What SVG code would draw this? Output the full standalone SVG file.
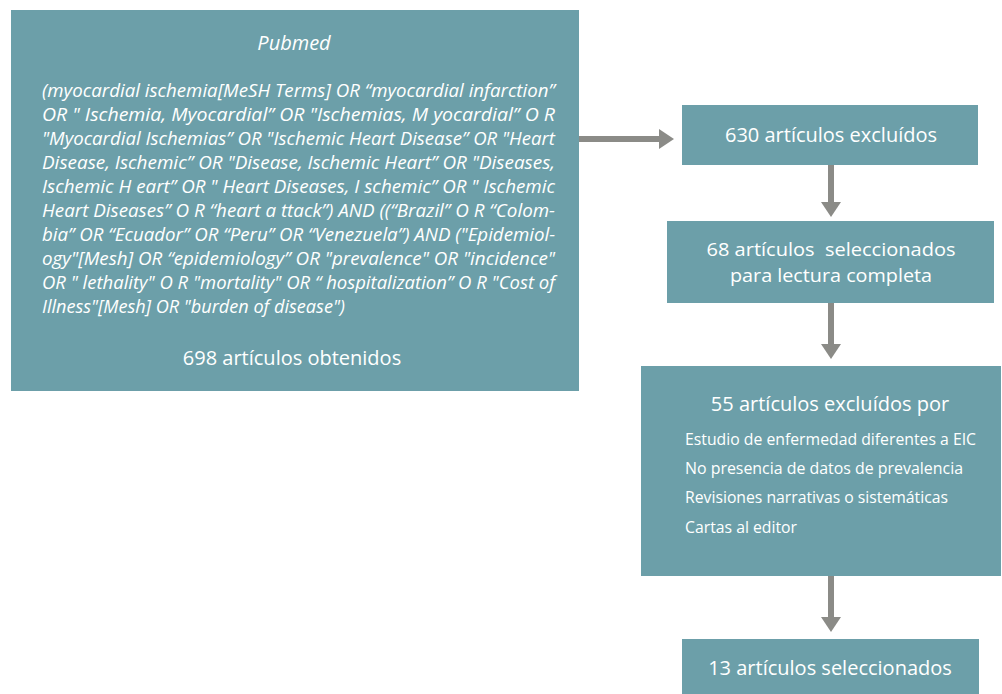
<svg xmlns="http://www.w3.org/2000/svg" width="1002" height="694" viewBox="0 0 1002 694">
<style>
.box{fill:#6c9fa9}
.t{font-family:"Open Sans","Liberation Sans",sans-serif;fill:#ffffff;font-size:20px}
.s{font-size:16px}
.q{font-family:"Open Sans","Liberation Sans",sans-serif;font-style:italic;font-size:17.5px;fill:#ffffff}
.c{text-anchor:middle}
.conn line{stroke:#8b8b87;stroke-width:6}
.conn polygon{fill:#8b8b87}
</style>
<rect width="1002" height="694" fill="#ffffff"/>
<g class="conn" id="connectors">
<line x1="579" y1="139" x2="660" y2="139"/>
<polygon points="659,129 674,139 659,149"/>
<line x1="831" y1="165" x2="831" y2="203"/>
<polygon points="821,202 841,202 831,217"/>
<line x1="831" y1="303" x2="831" y2="345"/>
<polygon points="821,344 841,344 831,359"/>
<line x1="831" y1="576" x2="831" y2="618"/>
<polygon points="821,617 841,617 831,632"/>
</g>
<g id="pubmed">
<rect class="box" x="11" y="10" width="568" height="381"/>
<text class="q c" x="294" y="50" style="font-size:20px">Pubmed</text>
<text class="q" x="42" y="97" textLength="513" lengthAdjust="spacingAndGlyphs">(myocardial ischemia[MeSH Terms] OR “myocardial infarction”</text>
<text class="q" x="42" y="121" textLength="513" lengthAdjust="spacingAndGlyphs">OR " Ischemia, Myocardial” OR "Ischemias, M yocardial” O R</text>
<text class="q" x="42" y="145" textLength="513" lengthAdjust="spacingAndGlyphs">"Myocardial Ischemias” OR "Ischemic Heart Disease” OR "Heart</text>
<text class="q" x="42" y="169" textLength="513" lengthAdjust="spacingAndGlyphs">Disease, Ischemic” OR "Disease, Ischemic Heart” OR "Diseases,</text>
<text class="q" x="42" y="193" textLength="513" lengthAdjust="spacingAndGlyphs">Ischemic H eart” OR " Heart Diseases, I schemic” OR " Ischemic</text>
<text class="q" x="42" y="217" textLength="513" lengthAdjust="spacingAndGlyphs">Heart Diseases” O R “heart a ttack”) AND ((“Brazil” O R “Colom-</text>
<text class="q" x="42" y="241" textLength="513" lengthAdjust="spacingAndGlyphs">bia” OR “Ecuador” OR “Peru” OR “Venezuela”) AND ("Epidemiol-</text>
<text class="q" x="42" y="265" textLength="513" lengthAdjust="spacingAndGlyphs">ogy"[Mesh] OR “epidemiology” OR "prevalence" OR "incidence"</text>
<text class="q" x="42" y="289" textLength="513" lengthAdjust="spacingAndGlyphs">OR " lethality" O R "mortality" OR “ hospitalization” O R "Cost of</text>
<text class="q" x="42" y="313" textLength="303" lengthAdjust="spacingAndGlyphs">Illness"[Mesh] OR "burden of disease")</text>
<text class="t c" x="292" y="365">698 artículos obtenidos</text>
</g>
<g id="excluidos630">
<rect class="box" x="682" y="105" width="296" height="60"/>
<text class="t c" x="831" y="142">630 artículos excluídos</text>
</g>
<g id="seleccionados68">
<rect class="box" x="667" y="221" width="327" height="82"/>
<text class="t c" x="831" y="256" style="font-size:19px" textLength="249" lengthAdjust="spacingAndGlyphs">68 artículos&#160; seleccionados</text>
<text class="t c" x="831" y="282" style="font-size:19px" textLength="202" lengthAdjust="spacingAndGlyphs">para lectura completa</text>
</g>
<g id="excluidos55">
<rect class="box" x="641" y="366" width="360" height="210"/>
<text class="t c" x="830" y="411">55 artículos excluídos por</text>
<text class="t s" x="685" y="445" textLength="291" lengthAdjust="spacingAndGlyphs">Estudio de enfermedad diferentes a EIC</text>
<text class="t s" x="685" y="474" textLength="278" lengthAdjust="spacingAndGlyphs">No presencia de datos de prevalencia</text>
<text class="t s" x="685" y="503" textLength="263" lengthAdjust="spacingAndGlyphs">Revisiones narrativas o sistemáticas</text>
<text class="t s" x="685" y="533" textLength="112" lengthAdjust="spacingAndGlyphs">Cartas al editor</text>
</g>
<g id="seleccionados13">
<rect class="box" x="682" y="639" width="297" height="55"/>
<text class="t c" x="830" y="675">13 artículos seleccionados</text>
</g>
</svg>
